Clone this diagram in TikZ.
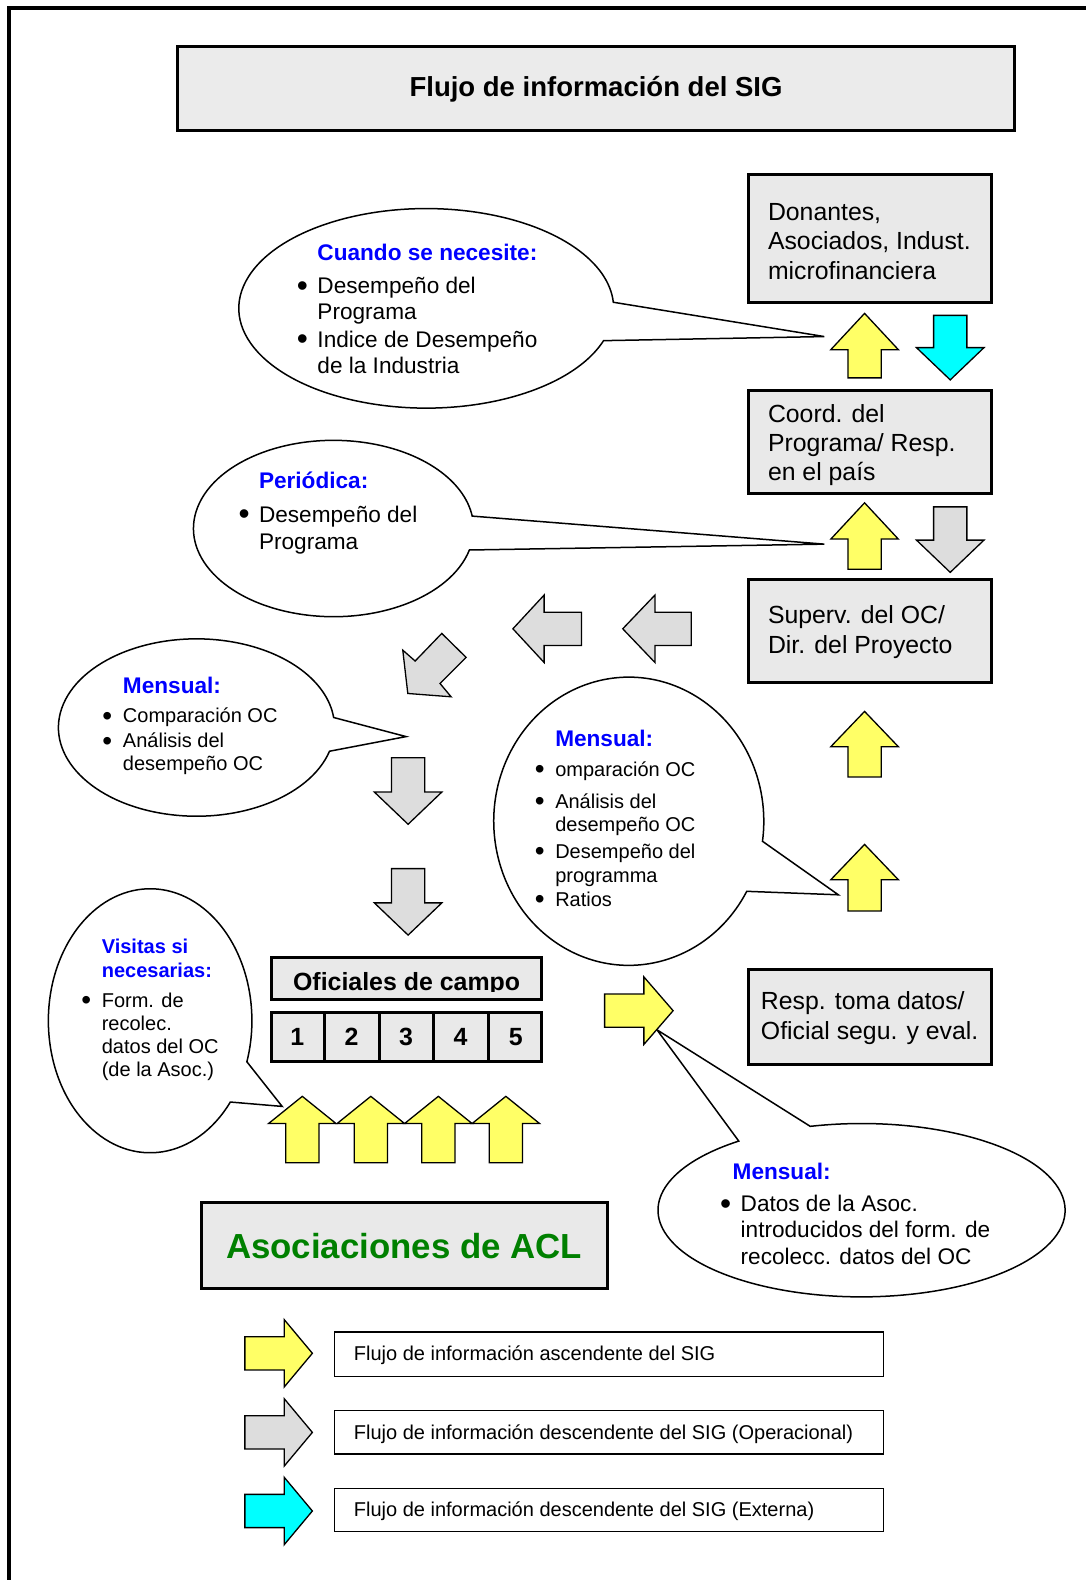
\documentclass[tikz,border=0pt]{standalone}
\usepackage{fontspec}
\setmainfont{Liberation Sans}
\definecolor{ayel}{HTML}{FFFF66}
\definecolor{acyan}{HTML}{00FFFF}
\definecolor{agray}{HTML}{DDDDDD}
\definecolor{boxgray}{HTML}{E9E9E9}
\definecolor{titgray}{HTML}{EBEBEB}
\definecolor{titblue}{HTML}{0000FF}
\definecolor{acgreen}{HTML}{008000}
\newcommand{\fsz}[2]{\fontsize{#1pt}{#2pt}\selectfont}
\newcommand{\txtlines}[1]{\begin{tabular}[t]{@{}l@{}}#1\end{tabular}}
\newcommand{\bultab}[1]{\begin{tabular}[t]{@{}l@{}l@{}}#1\end{tabular}}
\newcommand{\bul}{\makebox[20pt][l]{\hspace{-0.5pt}\raisebox{-0.11em}{\scalebox{1.4}{\textbullet}}}}
\newcommand{\ttl}[1]{\textcolor{titblue}{\bfseries #1}}
\tikzset{
  pics/barrow/.style args={#1/#2}{code={
    \path[pic actions] (0,0) -- (-#2,-33.5) -- (-#2,-16.5) -- (-#1,-16.5) -- (-#1,16.5) -- (-#2,16.5) -- (-#2,33.5) -- cycle;}},
  yel/.style={draw=black, fill=ayel, line width=1.3pt, line join=miter},
  gry/.style={draw=black, fill=agray, line width=1.3pt, line join=miter},
  cya/.style={draw=black, fill=acyan, line width=1.3pt, line join=miter},
  bigbox/.style={draw=black, fill=boxgray, line width=3pt},
  callout/.style={draw=black, fill=white, line width=1.5pt},
  legbox/.style={draw=black, fill=white, line width=1.4pt},
  txt/.style={anchor=base west, inner sep=0pt},
}
\begin{document}
\begin{tikzpicture}[x=1.0074pt, y=-1.0074pt]
\useasboundingbox (0,0) rectangle (1078,1568);
% page border
\draw[line width=4.5pt] (9,1568) -- (9,8) -- (1078,8);

% title
\draw[line width=3pt, fill=titgray] (176,46) rectangle (1007,130);
\node[font=\bfseries\fsz{27.5}{30}] (title) at (591.5,89) {Flujo de información del SIG};

% right column boxes
\draw[bigbox] (742.5,173.5) rectangle (983.5,300.5);
\node[txt, font=\fsz{24.8}{29.2}] (don) at (762,219) {\txtlines{Donantes,\\Asociados, Indust.\\microfinanciera}};
\draw[bigbox] (742.5,387.5) rectangle (983.5,489.5);
\node[txt, font=\fsz{24.8}{29.2}] (coord) at (762,419) {\txtlines{Coord. del\\Programa/ Resp.\\en el país}};
\draw[bigbox] (742.5,575.5) rectangle (983.5,677.5);
\node[txt, font=\fsz{24.8}{30.2}] (superv) at (762,619) {\txtlines{Superv. del OC/\\Dir. del Proyecto}};
\draw[bigbox] (742.5,962.5) rectangle (983.5,1056.5);
\node[txt, font=\fsz{24.8}{30.2}] (resp) at (755,1002) {\txtlines{Resp. toma datos/\\Oficial segu. y eval.}};

% callouts
\draw[callout] (423,306) ++(18.9:186 and 99) arc[start angle=18.9, end angle=356.5, x radius=186, y radius=99] -- (818,334) -- cycle;
\node[txt, font=\fsz{22.6}{26.2}] (c1) at (295,258.5) {\bultab{ & \ttl{Cuando se necesite:}\\[7pt] \bul & Desempeño del\\ & Programa\\[1pt] \bul & Indice de Desempeño\\ & de la Industria}};

\draw[callout] (331,524.5) ++(14.1:139 and 87.5) arc[start angle=14.1, end angle=351.9, x radius=139, y radius=87.5] -- (818,540) -- cycle;
\node[txt, font=\fsz{22.6}{27.2}] (c2) at (237,484.5) {\bultab{ & \ttl{Periódica:}\\[7pt] \bul & Desempeño del\\ & Programa}};

\draw[callout] (195,722) ++(15.5:137 and 88) arc[start angle=15.5, end angle=353.5, x radius=137, y radius=88] -- (403,731) -- cycle;
\node[txt, font=\fsz{20}{24}] (c3) at (102,688.6) {\bultab{ & \ttl{\fsz{22.6}{24}Mensual:}\\[5pt] \bul & Comparación OC\\[1pt] \bul & Análisis del\\[-1pt] & desempeño OC}};

\draw[callout] (624,815) ++(29.1:134 and 143) arc[start angle=29.1, end angle=368, x radius=134, y radius=143] -- (832,888) -- cycle;
\node[txt, font=\fsz{20}{23.5}] (c4) at (531,740.4) {\bultab{ & \ttl{\fsz{22.6}{24}Mensual:}\\[6.5pt] \bul & omparación OC\\[8.5pt] \bul & Análisis del\\ & desempeño OC\\[3.5pt] \bul & Desempeño del\\ & programma\\[0.5pt] \bul & Ratios}};

\draw[callout] (149,1013) ++(38:101 and 131) arc[start angle=38, end angle=378.1, x radius=101, y radius=131] -- (280,1098) -- cycle;
\node[txt, font=\fsz{20}{23.2}] (c5) at (81,946.6) {\bultab{ & \ttl{Visitas si}\\ & \ttl{necesarias:}\\[7pt] \bul & Form. de\\ & recolec.\\ & datos del OC\\ & (de la Asoc.)}};

\draw[callout] (855,1201) ++(255.4:202 and 86) arc[start angle=255.4, end angle=592.9, x radius=202, y radius=86] -- (652,1022) -- cycle;
\node[txt, font=\fsz{22.6}{26.2}] (c6) at (715,1170.5) {\bultab{ & \hspace{-8pt}\ttl{Mensual:}\\[6pt] \bul & Datos de la Asoc.\\ & introducidos del form. de\\ & recolecc. datos del OC}};

% block arrows, right column
\pic[yel, rotate=90] at (858,311) {barrow=64/36};
\pic[cya, rotate=-90] at (943,377) {barrow=64/32};
\pic[yel, rotate=90] at (858,499) {barrow=66/36};
\pic[gry, rotate=-90] at (943,568) {barrow=65/32};
\pic[yel, rotate=90] at (858,706) {barrow=65/35};
\pic[yel, rotate=90] at (858,838) {barrow=66/35};
% left-pointing gray
\pic[gry, rotate=180] at (509,624) {barrow=68/31};
\pic[gry, rotate=180] at (618,624) {barrow=68/32};
% diagonal gray
\draw[gry] (399.7,645.2) -- (412,656) -- (438.4,628.6) -- (462.6,652.4) -- (436.7,678.3) -- (447.7,691.5) -- (404.7,688.2) -- cycle;
% middle down gray
\pic[gry, rotate=-90] at (405,818) {barrow=66/32};
\pic[gry, rotate=-90] at (405,928) {barrow=66/32};
% yellow right
\pic[yel] at (668,1003) {barrow=68/29};

% Oficiales de campo
\draw[bigbox] (269.5,950.5) rectangle (537.5,991.5);
\begin{scope}
\clip (269.5,950.5) rectangle (537.5,983.5);
\node[font=\bfseries\fsz{24.9}{28}, anchor=base, inner sep=0pt] (ofc) at (403.5,983) {Oficiales de campo};
\end{scope}
\draw[bigbox] (269.5,1004.5) rectangle (537.5,1053.5);
\foreach \xx in {322.2,376.4,430.6,484.8} {\draw[line width=3pt] (\xx,1004.5) -- (\xx,1053.5);}
\node[font=\bfseries\fsz{24.9}{28}] (n1) at (295,1029) {1};
\node[font=\bfseries\fsz{24.9}{28}] (n2) at (349,1029) {2};
\node[font=\bfseries\fsz{24.9}{28}] (n3) at (403,1029) {3};
\node[font=\bfseries\fsz{24.9}{28}] (n4) at (457,1029) {4};
\node[font=\bfseries\fsz{24.9}{28}] (n5) at (512,1029) {5};

% bottom up arrows
\pic[yel, rotate=90] at (300,1088) {barrow=66/27};
\pic[yel, rotate=90] at (368,1088) {barrow=66/27};
\pic[yel, rotate=90] at (435,1088) {barrow=66/27};
\pic[yel, rotate=90] at (502,1088) {barrow=66/27};

% Asociaciones
\draw[bigbox] (199.5,1193.5) rectangle (602.5,1278.5);
\node[font=\bfseries\fsz{34.8}{40}, text=acgreen] (acl) at (401,1237) {Asociaciones de ACL};

% legend
\pic[yel] at (310,1343) {barrow=67/28};
\pic[gry] at (310,1421.5) {barrow=67/28};
\pic[cya] at (310,1499.5) {barrow=67/28};
\draw[legbox] (332,1322) rectangle (877,1366);
\draw[legbox] (332,1400) rectangle (877,1443);
\draw[legbox] (332,1477) rectangle (877,1520);
\node[txt, font=\fsz{20}{24}] (l1) at (351,1350.6) {Flujo de información ascendente del SIG};
\node[txt, font=\fsz{20}{24}] (l2) at (351,1428.1) {Flujo de información descendente del SIG (Operacional)};
\node[txt, font=\fsz{20}{24}] (l3) at (351,1505.1) {Flujo de información descendente del SIG (Externa)};
\end{tikzpicture}
\end{document}
